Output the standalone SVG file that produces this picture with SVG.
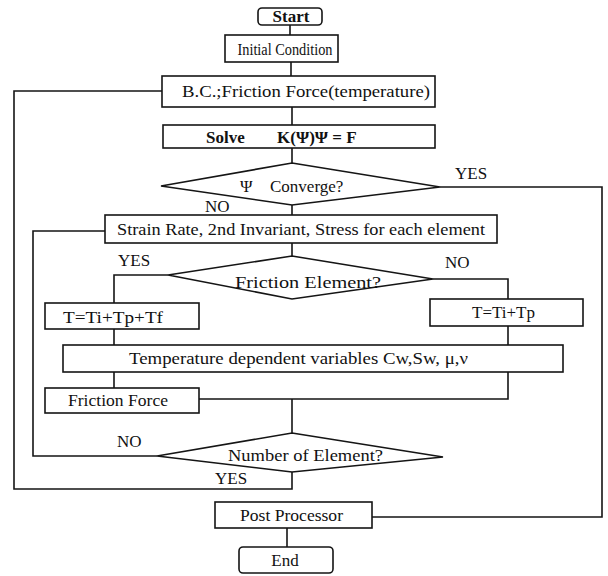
<svg xmlns="http://www.w3.org/2000/svg" width="608" height="576" viewBox="0 0 608 576">
<style>
.s{fill:#fff;stroke:#151515;stroke-width:1.6}
.c{fill:none;stroke:#151515;stroke-width:1.6}
text{font-family:"Liberation Serif","Times New Roman",serif;font-size:17px;fill:#111}
.b{font-weight:bold}
.m{text-anchor:middle}
</style>
<rect width="608" height="576" fill="#fff"/>
<g id="connectors">
<path class="c" d="M290 25V35M291 62V76M292 107V125M292 148V163M292 205V215M292 243V256"/>
<path class="c" d="M440 187H602V517H372"/>
<path class="c" d="M105 231H33V456H157"/>
<path class="c" d="M168 275H114V303M433 279H508V299"/>
<path class="c" d="M114 329V345M508 326V345M114 372V388M508 372V399H199M292 399V433"/>
<path class="c" d="M292 472V489H14V91H162"/>
<path class="c" d="M287 528V547"/>
</g>
<g id="start"><rect class="s" x="258" y="8" width="64" height="17" rx="4"/><text class="b m" x="291" y="22" font-size="16">Start</text></g>
<g id="initial"><rect class="s" x="225" y="35" width="113" height="27"/><text class="m" x="285" y="55" textLength="95" lengthAdjust="spacingAndGlyphs">Initial Condition</text></g>
<g id="bc"><rect class="s" x="162" y="76" width="273" height="31"/><text x="182" y="97" textLength="248" lengthAdjust="spacingAndGlyphs">B.C.;Friction Force(temperature)</text></g>
<g id="solve"><rect class="s" x="163" y="125" width="272" height="23"/><text class="b" y="143"><tspan x="206">Solve</tspan><tspan x="277">K(Ψ)Ψ = F</tspan></text></g>
<g id="converge"><polygon class="s" points="292,163 440,187 292,205 161,186"/><text y="192"><tspan x="240">Ψ</tspan><tspan x="270">Converge?</tspan></text></g>
<g id="label-yes1"><text x="455" y="179">YES</text></g>
<g id="label-no1"><text x="205" y="212">NO</text></g>
<g id="strain"><rect class="s" x="105" y="215" width="392" height="28"/><text x="117" y="235" textLength="368" lengthAdjust="spacingAndGlyphs">Strain Rate, 2nd Invariant, Stress for each element</text></g>
<g id="friction-element"><polygon class="s" points="292,256 433,279 292,299 168,275"/><text class="m" x="308" y="288" textLength="146" lengthAdjust="spacingAndGlyphs">Friction Element?</text></g>
<g id="label-yes2"><text x="118" y="266">YES</text></g>
<g id="label-no2"><text x="445" y="268">NO</text></g>
<g id="t-friction"><rect class="s" x="45" y="303" width="154" height="26"/><text x="63" y="323" textLength="100" lengthAdjust="spacingAndGlyphs">T=Ti+Tp+Tf</text></g>
<g id="t-nofriction"><rect class="s" x="430" y="299" width="153" height="27"/><text x="472" y="318" textLength="63" lengthAdjust="spacingAndGlyphs">T=Ti+Tp</text></g>
<g id="temperature"><rect class="s" x="63" y="345" width="500" height="27"/><text x="129" y="364" textLength="339" lengthAdjust="spacingAndGlyphs">Temperature dependent variables  Cw,Sw, μ,ν</text></g>
<g id="friction-force"><rect class="s" x="45" y="388" width="154" height="25"/><text x="68" y="406" textLength="100" lengthAdjust="spacingAndGlyphs">Friction Force</text></g>
<g id="number"><polygon class="s" points="292,433 443,457 292,472 157,456"/><text x="228" y="461" textLength="155" lengthAdjust="spacingAndGlyphs">Number of Element?</text></g>
<g id="label-no3"><text x="117" y="447">NO</text></g>
<g id="label-yes3"><text x="215" y="484">YES</text></g>
<g id="post"><rect class="s" x="215" y="502" width="157" height="26"/><text x="240" y="521" textLength="103" lengthAdjust="spacingAndGlyphs">Post Processor</text></g>
<g id="end"><rect class="s" x="239" y="547" width="94" height="26" rx="4"/><text class="m" x="285" y="566">End</text></g>
</svg>
